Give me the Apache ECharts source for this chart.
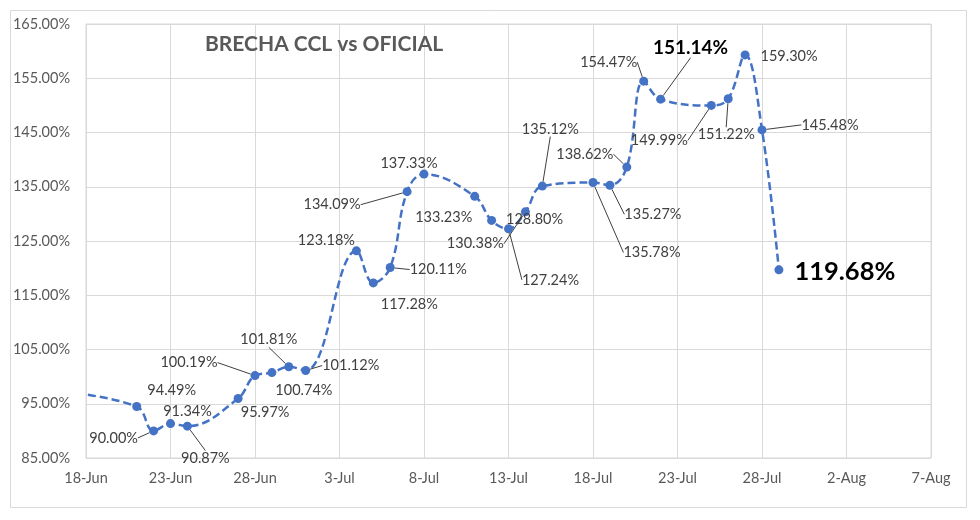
<!DOCTYPE html>
<html><head><meta charset="utf-8">
<script src="https://cdn.jsdelivr.net/npm/echarts@6/dist/echarts.min.js"></script>
<style>html,body{margin:0;padding:0;background:#fff}#c{width:980px;height:520px}</style>
</head><body><div id="c"></div>
<script>
// ---- data ----
const titleText = 'BRECHA CCL vs OFICIAL';
const dates = ['2022-06-16','2022-06-21','2022-06-22','2022-06-23','2022-06-24','2022-06-27','2022-06-28','2022-06-29','2022-06-30','2022-07-01',
  '2022-07-04','2022-07-05','2022-07-06','2022-07-07','2022-07-08','2022-07-11','2022-07-12','2022-07-13','2022-07-14','2022-07-15',
  '2022-07-18','2022-07-19','2022-07-20','2022-07-21','2022-07-22','2022-07-25','2022-07-26','2022-07-27','2022-07-28','2022-07-29'];
const gapValues = [97.4, 94.49, 90.00, 91.34, 90.87, 95.97, 100.19, 100.74, 101.81, 101.12,
  123.18, 117.28, 120.11, 134.09, 137.33, 133.23, 128.80, 127.24, 130.38, 135.12,
  135.78, 135.27, 138.62, 154.47, 151.14, 149.99, 151.22, 159.30, 145.48, 119.68];
const monthNames = ['Jan','Feb','Mar','Apr','May','Jun','Jul','Aug','Sep','Oct','Nov','Dec'];
const xStart = '2022-06-18', xEnd = '2022-08-07', xStepDays = 5;
const yMin = 85, yMax = 165, yStep = 10;

// ---- label styling (offsets from marker centre, leader line flag) ----
const labelPlacement = [null,
  [35,-16,0],[-40,7,1],[17,-12,0],[18,32,1],[27,14,0],[-66,-13,1],[32,18,0],[-20,-27,1],[45,-5,1],
  [-30,-11,0],[36,21,0],[48,2,1],[-75,13,1],[-15,-11,0],[-31,21,0],[43,-1,0],[42,51,1],[-50,32,1],[8,-57,1],
  [59,70,1],[43,29,1],[-42,-13,1],[-35,-19,1],[30,-51,1],[-52,35,1],[-2,36,1],[44,1,0],[68,-5,1],[66,2,0]];
const labelSpecial = {24:{fontSize:19,fontWeight:'bold',color:'#000'}, 29:{fontSize:25.5,fontWeight:'bold',color:'#000'}};

const FONT = 'Lato';
const DAY = 86400000;
const t0 = Date.parse(xStart + 'T00:00:00Z');
const dayOf = s => (Date.parse(s + 'T00:00:00Z') - t0) / DAY;
const fmtDay = v => { const d = new Date(t0 + v * DAY); return d.getUTCDate() + '-' + monthNames[d.getUTCMonth()]; };

const seriesData = dates.map((d, i) => {
  const p = labelPlacement[i];
  const item = { value: [dayOf(d), gapValues[i]] };
  if (!p) { item.label = { show: false }; item.labelLine = { show: false }; }
  else {
    item.labelLine = { show: !!p[2] };
    if (labelSpecial[i]) item.label = Object.assign({ show: true }, labelSpecial[i]);
  }
  return item;
});

const chart = echarts.init(document.getElementById('c'), null, { renderer: 'canvas' });
chart.setOption({
  animation: false,
  backgroundColor: '#fff',
  title: { text: titleText, left: 200, top: 29,
    textStyle: { fontFamily: FONT, fontSize: 21, fontWeight: 'bold', color: '#595959' } },
  graphic: [{ type: 'rect', shape: { x: 10.5, y: 10.5, width: 956, height: 497 },
    style: { fill: 'none', stroke: '#d9d9d9', lineWidth: 1 }, z: -10, silent: true }],
  grid: { left: 86, right: 49, top: 24, bottom: 62, show: true, borderColor: '#d9d9d9', borderWidth: 1 },
  xAxis: { type: 'value', min: 0, max: dayOf(xEnd), interval: xStepDays,
    axisLine: { show: false }, axisTick: { show: false },
    splitLine: { show: true, lineStyle: { color: '#d9d9d9', width: 1 } },
    axisLabel: { formatter: fmtDay, color: '#595959', fontSize: 14.5, fontFamily: FONT, margin: 13 } },
  yAxis: [
    { type: 'value', min: yMin, max: yMax, show: false, position: 'right', splitLine: { show: false } },
    { type: 'value', min: 0, max: yMax - yMin, interval: yStep, position: 'left',
      axisLine: { show: false }, axisTick: { show: false },
      splitLine: { show: true, lineStyle: { color: '#d9d9d9', width: 1 } },
      axisLabel: { formatter: v => (v + yMin).toFixed(2) + '%', color: '#595959', fontSize: 14.5, fontFamily: FONT, margin: 16 } }
  ],
  series: [{
    type: 'line', yAxisIndex: 0, data: seriesData, clip: true,
    smooth: 0.4, symbol: 'circle', symbolSize: 9,
    lineStyle: { color: '#4472C4', width: 2.5, type: [8, 4] },
    itemStyle: { color: '#4472C4' },
    label: { show: true, position: 'inside', formatter: p => p.value[1].toFixed(2) + '%',
      color: '#404040', fontSize: 14.5, fontFamily: FONT },
    labelLine: { show: true, lineStyle: { color: '#404040', width: 1 } },
    labelLayout: function (params) {
      const p = labelPlacement[params.dataIndex];
      if (!p) return {};
      const r = params.rect;
      return { x: r.x + r.width / 2 + p[0], y: r.y + r.height / 2 + p[1], align: 'center', verticalAlign: 'middle' };
    }
  }]
});
</script></body></html>
